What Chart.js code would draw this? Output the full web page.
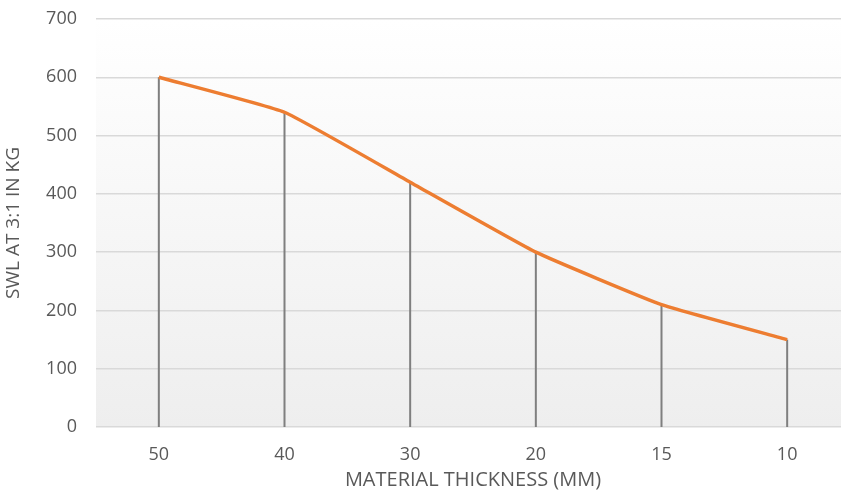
<!DOCTYPE html>
<html>
<head>
<meta charset="utf-8">
<script src="https://cdn.jsdelivr.net/npm/chart.js@4/dist/chart.umd.min.js"></script>
<style>
html,body{margin:0;padding:0;background:#fff;overflow:hidden;width:841px;height:497px;}
#wrap{width:852px;height:497px;}
</style>
</head>
<body>
<div id="wrap"><canvas id="c" width="852" height="497"></canvas></div>
<script>
const categories = ["50", "40", "30", "20", "15", "10"];
const swlValues = [600, 540, 420, 300, 210, 150];
const yTicks = [0, 100, 200, 300, 400, 500, 600, 700];

const bgPlugin = {
  id: 'bg',
  beforeDraw(chart) {
    const {ctx, chartArea: a} = chart;
    const g = ctx.createLinearGradient(0, a.top, 0, a.bottom);
    g.addColorStop(0, '#ffffff');
    g.addColorStop(1, '#eeeeee');
    ctx.save();
    ctx.fillStyle = g;
    ctx.fillRect(a.left, a.top, a.right - a.left, a.bottom - a.top);
    ctx.restore();
  }
};
const dropPlugin = {
  id: 'drop',
  beforeDatasetsDraw(chart) {
    const ctx = chart.ctx;
    const xs = chart.scales.x, ys = chart.scales.y;
    ctx.save();
    ctx.strokeStyle = '#7f7f7f';
    ctx.lineWidth = 2;
    swlValues.forEach((v, i) => {
      const x = xs.getPixelForValue(i);
      ctx.beginPath();
      ctx.moveTo(x, ys.getPixelForValue(v));
      ctx.lineTo(x, ys.getPixelForValue(0));
      ctx.stroke();
    });
    ctx.restore();
  }
};

new Chart(document.getElementById('c'), {
  type: 'line',
  data: {
    labels: categories,
    datasets: [{
      data: swlValues,
      borderColor: '#ed7d31',
      borderWidth: 3.5,
      pointRadius: 0,
      tension: 0.12,
      fill: false
    }]
  },
  options: {
    responsive: false,
    animation: false,
    devicePixelRatio: 1,
    layout: {padding: {top: 19, right: 2, left: 0, bottom: 0}},
    plugins: {legend: {display: false}, tooltip: {enabled: false}},
    scales: {
      x: {
        offset: true,
        grid: {display: false, drawTicks: false},
        border: {display: false},
        ticks: {color: '#595959', font: {family: 'Open Sans', size: 18}, padding: 17},
        title: {display: true, text: 'MATERIAL THICKNESS (MM)', color: '#595959',
                font: {family: 'Open Sans', size: 20}, padding: {top: 0, bottom: 5}},
        afterFit(s) { s.height = 70; s.paddingLeft = 0; s.paddingRight = 0; }
      },
      y: {
        min: 0, max: 700,
        afterBuildTicks(s) { s.ticks = yTicks.map(v => ({value: v})); },
        grid: {color: '#d9d9d9', lineWidth: 1.5, drawTicks: false},
        border: {display: false},
        ticks: {color: '#595959', font: {family: 'Open Sans', size: 18}, padding: 19},
        title: {display: true, text: 'SWL AT 3:1 IN KG', color: '#595959',
                font: {family: 'Open Sans', size: 19}, padding: {top: 2, bottom: 0}},
        afterFit(s) { s.width = 96; s.paddingTop = 0; s.paddingBottom = 0; }
      }
    }
  },
  plugins: [bgPlugin, dropPlugin]
});
</script>
</body>
</html>
